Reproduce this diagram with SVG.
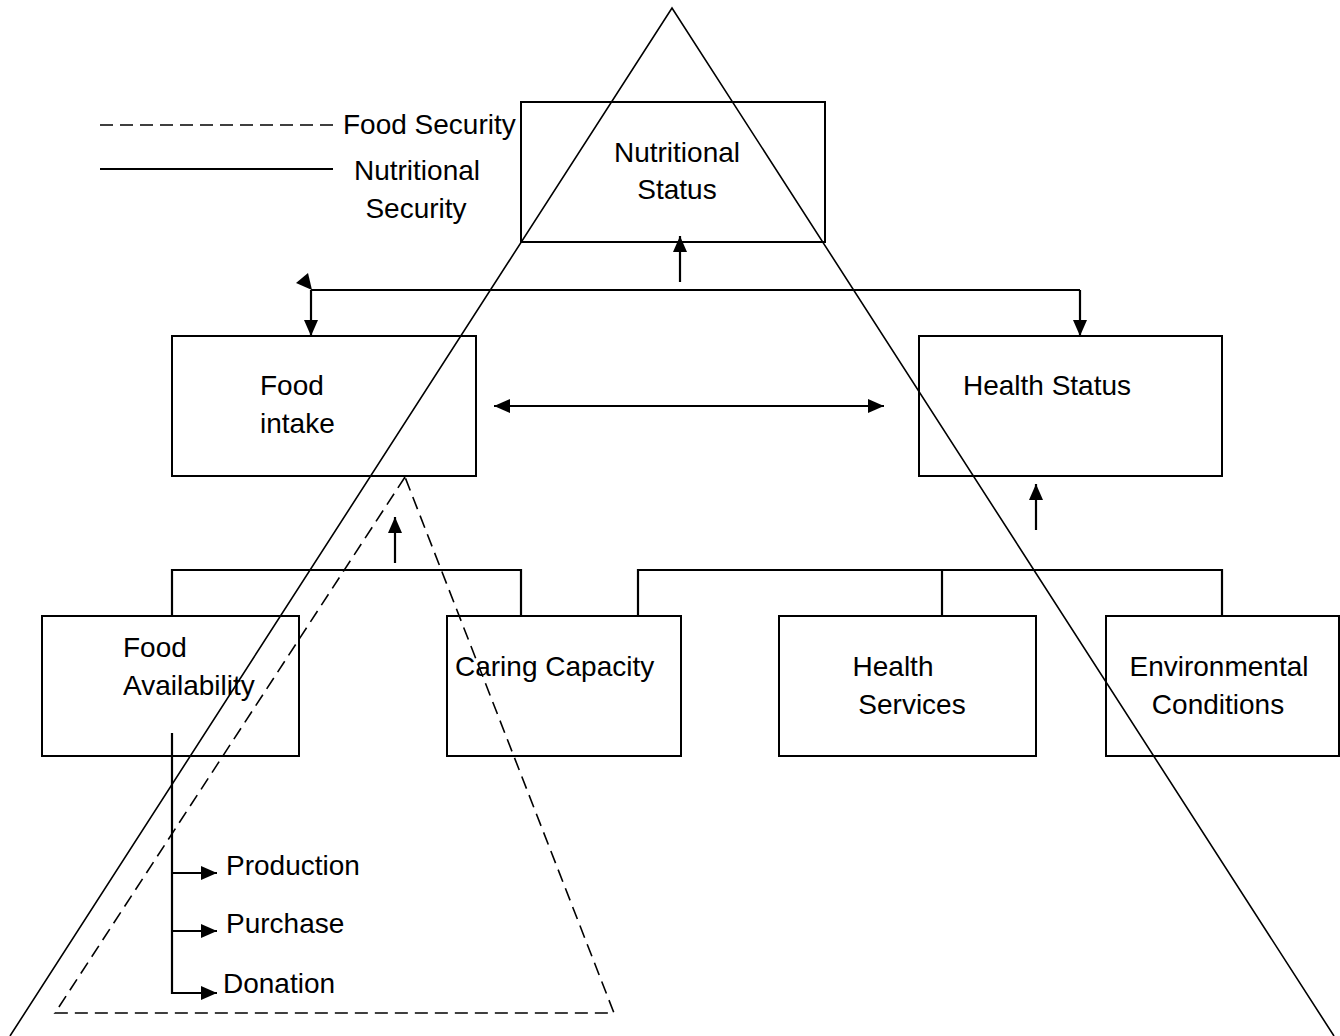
<svg xmlns="http://www.w3.org/2000/svg" width="1340" height="1036" viewBox="0 0 1340 1036">
<defs>
<style>
.box{fill:none;stroke:#000;stroke-width:2}
.tri{fill:none;stroke:#000;stroke-width:1.6}
.dash{fill:none;stroke:#000;stroke-width:1.6;stroke-dasharray:13,7}
.con{fill:none;stroke:#000;stroke-width:2.2}
text{font-family:"Liberation Sans",Arial,sans-serif;font-size:28px;fill:#000}
</style>
<marker id="arr" viewBox="0 0 16 14" refX="16" refY="7" markerWidth="16" markerHeight="14" markerUnits="userSpaceOnUse" orient="auto-start-reverse">
<path d="M0,0 L16,7 L0,14 z" fill="#000"/>
</marker>
</defs>
<rect width="1340" height="1036" fill="#fff"/>

<g id="legend">
<line x1="100" y1="125" x2="337" y2="125" class="dash"/>
<text x="343" y="134">Food Security</text>
<line x1="100" y1="169" x2="333" y2="169" class="con" stroke-width="2"/>
<text x="417" y="180" text-anchor="middle">Nutritional</text>
<text x="416" y="218" text-anchor="middle">Security</text>
</g>

<g id="triangles">
<polyline points="10,1036 672,8 1334,1036" class="tri"/>
<polygon points="405,477 55,1013 614,1013" class="dash"/>
</g>

<g id="nutritional-status">
<rect x="521" y="102" width="304" height="140" class="box"/>
<text x="677" y="162" text-anchor="middle">Nutritional</text>
<text x="677" y="199" text-anchor="middle">Status</text>
</g>

<g id="food-intake">
<rect x="172" y="336" width="304" height="140" class="box"/>
<text x="260" y="395">Food</text>
<text x="260" y="433">intake</text>
</g>

<g id="health-status">
<rect x="919" y="336" width="303" height="140" class="box"/>
<text x="1047" y="395" text-anchor="middle">Health Status</text>
</g>

<g id="food-availability">
<rect x="42" y="616" width="257" height="140" class="box"/>
<text x="123" y="657">Food</text>
<text x="123" y="695">Availability</text>
</g>

<g id="caring-capacity">
<rect x="447" y="616" width="234" height="140" class="box"/>
<text x="455" y="676">Caring Capacity</text>
</g>

<g id="health-services">
<rect x="779" y="616" width="257" height="140" class="box"/>
<text x="893" y="676" text-anchor="middle">Health</text>
<text x="912" y="714" text-anchor="middle">Services</text>
</g>

<g id="environmental-conditions">
<rect x="1106" y="616" width="233" height="140" class="box"/>
<text x="1219" y="676" text-anchor="middle">Environmental</text>
<text x="1218" y="714" text-anchor="middle">Conditions</text>
</g>

<g id="sources">
<text x="226" y="875">Production</text>
<text x="226" y="933">Purchase</text>
<text x="223" y="993">Donation</text>
</g>

<g id="connectors">
<line x1="680" y1="282" x2="680" y2="236" class="con" marker-end="url(#arr)"/>
<line x1="311" y1="290" x2="1080" y2="290" class="con"/>
<polygon points="296,283 308,273 312,290" fill="#000"/>
<line x1="311" y1="290" x2="311" y2="336" class="con" marker-end="url(#arr)"/>
<line x1="1080" y1="290" x2="1080" y2="336" class="con" marker-end="url(#arr)"/>
<line x1="494" y1="406" x2="884" y2="406" class="con" marker-start="url(#arr)" marker-end="url(#arr)"/>
<line x1="395" y1="563" x2="395" y2="517" class="con" marker-end="url(#arr)"/>
<polyline points="172,616 172,570 521,570 521,616" class="con" stroke-width="2"/>
<line x1="1036" y1="530" x2="1036" y2="484" class="con" marker-end="url(#arr)"/>
<polyline points="638,616 638,570 1222,570 1222,616" class="con" stroke-width="2"/>
<line x1="942" y1="570" x2="942" y2="616" class="con" stroke-width="2"/>
<polyline points="172,733 172,993 217,993" class="con" marker-end="url(#arr)"/>
<line x1="172" y1="873" x2="217" y2="873" class="con" marker-end="url(#arr)"/>
<line x1="172" y1="931" x2="217" y2="931" class="con" marker-end="url(#arr)"/>
</g>
</svg>
